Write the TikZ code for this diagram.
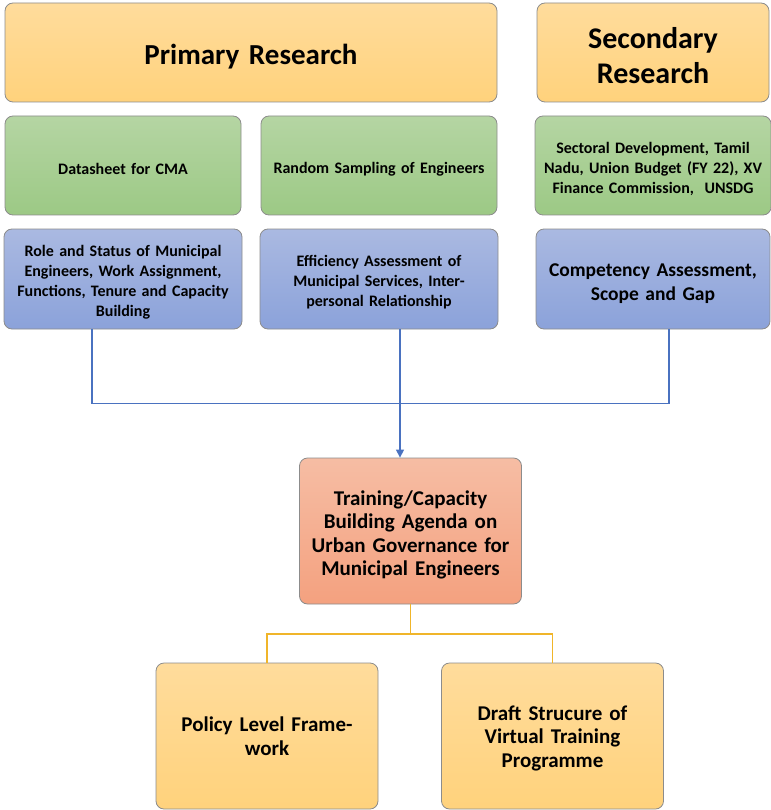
\documentclass[tikz,border=0pt]{standalone}
\usepackage{fontspec}
\setmainfont{Carlito}
\usetikzlibrary{arrows.meta,calc}
\definecolor{orT}{HTML}{FFDC9C}
\definecolor{orB}{HTML}{FFD27C}
\definecolor{grT}{HTML}{B5D5A3}
\definecolor{grB}{HTML}{9CC985}
\definecolor{blT}{HTML}{AAB9E1}
\definecolor{blB}{HTML}{8BA2DA}
\definecolor{saT}{HTML}{F6BDA4}
\definecolor{saB}{HTML}{F4A17F}
\definecolor{bord}{HTML}{8C8C8C}
\definecolor{conB}{HTML}{4A72C0}
\definecolor{conY}{HTML}{F0B52A}
\newcommand\Tp{\rule{0pt}{\dimexpr 0.78em+6pt\relax}}
\newcommand\Th{\rule{0pt}{\dimexpr 0.78em+3pt\relax}}
\tikzset{
  x=1pt,y=-1pt,
  box/.style={draw=bord,line width=0.8pt,rounded corners=8pt,align=center,font=\bfseries,inner sep=3pt},
  orbox/.style={box,top color=orT,bottom color=orB},
  grbox/.style={box,top color=grT,bottom color=grB,font=\bfseries\fontsize{16}{20}\selectfont},
  blbox/.style={box,top color=blT,bottom color=blB,font=\bfseries\fontsize{16}{20}\selectfont},
  sabox/.style={box,top color=saT,bottom color=saB,font=\bfseries\fontsize{21}{23.5}\selectfont},
  bconn/.style={draw=conB,line width=1.3pt},
  yconn/.style={draw=conY,line width=1.4pt},
}
\begin{document}
\begin{tikzpicture}
\useasboundingbox (0,0) rectangle (770,810);
\node[orbox,minimum width=492pt,minimum height=99pt,text width=480pt,font=\bfseries\fontsize{29}{35}\selectfont] (prim) at (251,52.5) {\Tp Primary Research};
\node[orbox,minimum width=232pt,minimum height=99pt,text width=226pt,font=\bfseries\fontsize{30}{35}\selectfont] (sec) at (653,52.5) {\Th Secondary\\Research};
\node[grbox,minimum width=236pt,minimum height=99pt,text width=230pt] (g1) at (123,165.5) {\Tp Datasheet for CMA};
\node[grbox,minimum width=236pt,minimum height=99pt,text width=230pt] (g2) at (379,165.5) {\Tp Random Sampling of Engineers};
\node[grbox,minimum width=232pt,minimum height=99pt,text width=230pt] (g3) at (653,165.5) {\Tp Sectoral Development, Tamil\\Nadu, Union Budget (FY 22), XV\\Finance Commission,\ \ UNSDG};
\node[blbox,minimum width=236pt,minimum height=100pt,text width=232pt] (b1) at (123,279) {\Tp Role and Status of Municipal\\Engineers, Work Assignment,\\Functions, Tenure and Capacity\\Building};
\node[blbox,minimum width=236pt,minimum height=100pt,text width=232pt] (b2) at (379,279) {\Tp Efficiency Assessment of\\Municipal Services, Inter-\\personal Relationship};
\node[blbox,minimum width=232pt,minimum height=100pt,text width=228pt,font=\bfseries\fontsize{19.5}{24}\selectfont] (b3) at (653,279) {\Tp Competency Assessment,\\Scope and Gap};
\node[sabox,minimum width=219pt,minimum height=146pt,text width=216pt] (tr) at (410.5,531) {\Tp Training/Capacity\\Building Agenda on\\Urban Governance for\\Municipal Engineers};
\node[orbox,minimum width=220pt,minimum height=146pt,text width=216pt,font=\bfseries\fontsize{21}{23.5}\selectfont] (p1) at (267,736) {Policy Level Frame-\\work};
\node[orbox,minimum width=219pt,minimum height=146pt,text width=216pt,font=\bfseries\fontsize{21}{23.5}\selectfont] (p2) at (552.5,736) {\Th Draft Strucure of\\Virtual Training\\Programme};
% blue connectors
\coordinate (s1) at ([xshift=-31pt]b1.south);
\coordinate (s2) at ([xshift=21pt]b2.south);
\coordinate (s3) at ([xshift=16pt]b3.south);
\coordinate (j) at ($(s2)+(0,74)$);
\draw[bconn] (s1) |- (j) -| (s3);
\draw[bconn,-{Triangle[length=8pt,width=8pt]}] (s2) -- (s2 |- tr.north);
% yellow connectors
\coordinate (k) at ($(tr.south)+(0,29.5)$);
\draw[yconn] (tr.south) -- (k);
\draw[yconn] (p1.north) |- (k) -| (p2.north);
\end{tikzpicture}
\end{document}
